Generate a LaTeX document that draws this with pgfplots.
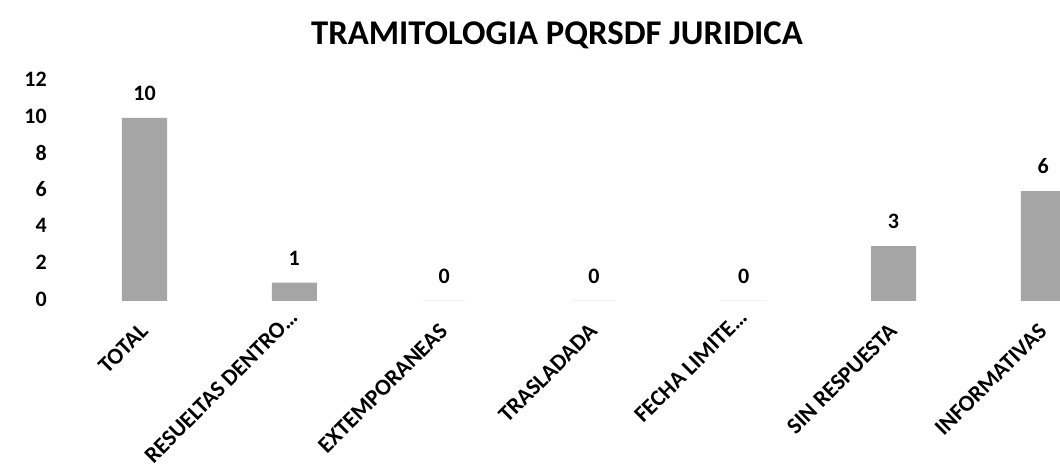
\documentclass[border=0pt]{standalone}
\usepackage{fontspec}
\setmainfont{Carlito}
\usepackage{pgfplots}
\pgfplotsset{compat=1.18}
\begin{document}
\begin{tikzpicture}
\path (-69.6pt,-172pt) rectangle (990.4pt,301pt);
\begin{axis}[
  at={(0pt,0pt)}, anchor=south west,
  scale only axis,
  width=990.4pt, height=219.6pt,
  xmin=-0.5, xmax=6.1115,
  ymin=0, ymax=12,
  ytick={0,2,4,6,8,10,12},
  xtick={0,2,3,5,6},
  xticklabels={TOTAL,EXTEMPORANEAS,TRASLADADA,SIN RESPUESTA,INFORMATIVAS},
  extra x ticks={1,4},
  extra x tick labels={RESUELTAS DENTRO…,FECHA LIMITE…},
  extra x tick style={xticklabel style={xshift=9.9pt, yshift=9.9pt}},
  axis line style={draw=none},
  tick style={draw=none},
  /pgf/number format/assume math mode=true,
  yticklabel style={font=\fontsize{22}{26}\selectfont\bfseries, anchor=east, inner sep=0pt, xshift=-22.6pt, yshift=2pt},
  xticklabel style={font=\fontsize{23}{27}\selectfont\bfseries, xshift=-6pt, yshift=-21pt, rotate=45, anchor=north east, inner sep=0pt},
  title={TRAMITOLOGIA PQRSDF JURIDICA},
  title style={font=\fontsize{34.7}{40}\selectfont\bfseries, at={(axis description cs:0.4921,1.184)}, anchor=center},
  clip=true,
]
\addplot[ybar, bar width=45pt, fill={rgb,255:red,165;green,165;blue,165}, draw=none,
  nodes near coords, nodes near coords align={vertical},
  every node near coord/.append style={font=\fontsize{22}{26}\selectfont\bfseries, anchor=south, inner sep=0pt, yshift=17pt, black}]
  coordinates {(0,10) (1,1) (2,0) (3,0) (4,0) (5,3) (6,6)};
\end{axis}
\end{tikzpicture}
\end{document}
